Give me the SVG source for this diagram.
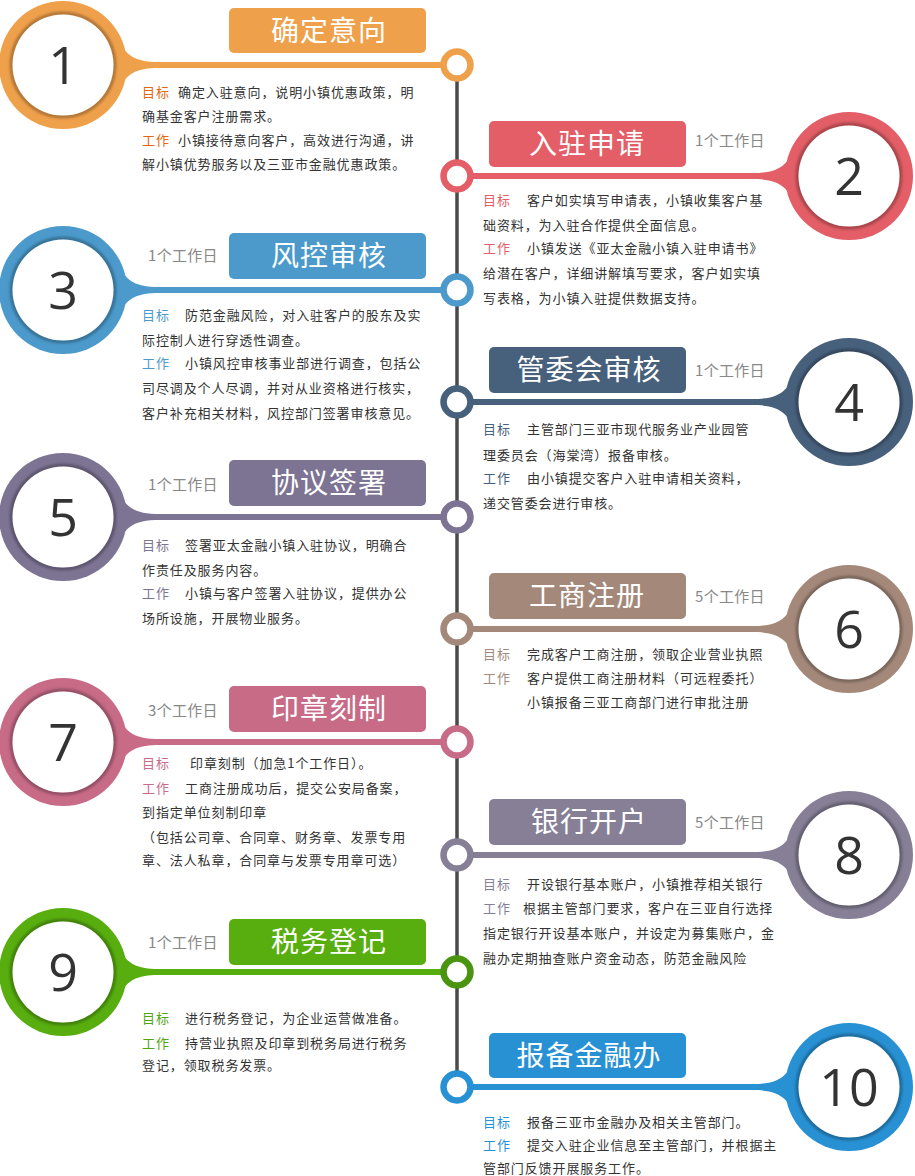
<svg xmlns="http://www.w3.org/2000/svg" width="915" height="1176" viewBox="0 0 915 1176">
<defs>
<style>
text{font-family:"Noto Sans CJK SC","Noto Sans",sans-serif}
.b{font-size:13px;fill:#333;letter-spacing:0.9px}
.t{font-size:28px;fill:#fff;text-anchor:middle;letter-spacing:1px}
.d{font-size:15px;fill:#888;letter-spacing:0.3px}
.n{font-family:"Open Sans","Liberation Sans",sans-serif;font-size:52px;fill:#333;text-anchor:middle}
.w{fill:#fff}
.sh{fill:none;stroke:#000;stroke-opacity:0.35;stroke-width:3}
.sc{fill:#fff;stroke-width:6.5}
</style>
<filter id="blur" x="-10%" y="-10%" width="120%" height="120%"><feGaussianBlur stdDeviation="1.5"/></filter>
</defs>
<rect width="915" height="1176" fill="#fff"/>
<g id="connectors">
<line x1="457" y1="65" x2="457" y2="1087" stroke="#4a4a4a" stroke-width="3.5"/>
</g>

<g id="step1">
<path d="M113,29 C124,55 132,62 160,62 L457,62 L457,68 L160,68 C132,68 124,75 113,101 Z" fill="#EFA04B"/>
<circle cx="63" cy="65" r="64" fill="#EFA04B"/>
<circle cx="63" cy="65" r="51.5" class="sh" filter="url(#blur)"/>
<circle cx="63" cy="65" r="50.5" class="w"/>
<text x="63" y="84" class="n">1</text>
<circle cx="457" cy="65" r="13.5" class="sc" stroke="#EFA04B"/>
<rect x="229" y="8" width="197" height="45" rx="5" fill="#EFA04B"/>
<text x="329" y="41" class="t">确定意向</text>
<text class="b" y="97"><tspan x="142" fill="#E4660E">目标</tspan><tspan x="178">确定入驻意向，说明小镇优惠政策，明</tspan></text>
<text class="b" x="142" y="121">确基金客户注册需求。</text>
<text class="b" y="145"><tspan x="142" fill="#E4660E">工作</tspan><tspan x="178">小镇接待意向客户，高效进行沟通，讲</tspan></text>
<text class="b" x="142" y="169">解小镇优势服务以及三亚市金融优惠政策。</text>
</g>

<g id="step2">
<path d="M799,140 C788,166 780,173 752,173 L457,173 L457,179 L752,179 C780,179 788,186 799,212 Z" fill="#E35E66"/>
<circle cx="849" cy="176" r="64" fill="#E35E66"/>
<circle cx="849" cy="176" r="51.5" class="sh" filter="url(#blur)"/>
<circle cx="849" cy="176" r="50.5" class="w"/>
<text x="849" y="195" class="n">2</text>
<circle cx="457" cy="176" r="13.5" class="sc" stroke="#E35E66"/>
<rect x="489" y="121" width="197" height="46" rx="5" fill="#E35E66"/>
<text x="587" y="154" class="t">入驻申请</text>
<text x="695" y="146" class="d">1个工作日</text>
<text class="b" y="205"><tspan x="483" fill="#E35E66">目标</tspan><tspan x="527">客户如实填写申请表，小镇收集客户基</tspan></text>
<text class="b" x="483" y="230">础资料，为入驻合作提供全面信息。</text>
<text class="b" y="253"><tspan x="483" fill="#E35E66">工作</tspan><tspan x="527">小镇发送《亚太金融小镇入驻申请书》</tspan></text>
<text class="b" x="483" y="278">给潜在客户，详细讲解填写要求，客户如实填</text>
<text class="b" x="483" y="303">写表格，为小镇入驻提供数据支持。</text>
</g>

<g id="step3">
<path d="M113,254 C124,280 132,287 160,287 L457,287 L457,293 L160,293 C132,293 124,300 113,326 Z" fill="#4B9ACB"/>
<circle cx="63" cy="290" r="64" fill="#4B9ACB"/>
<circle cx="63" cy="290" r="51.5" class="sh" filter="url(#blur)"/>
<circle cx="63" cy="290" r="50.5" class="w"/>
<text x="63" y="309" class="n">3</text>
<circle cx="457" cy="290" r="13.5" class="sc" stroke="#4B9ACB"/>
<rect x="229" y="233" width="197" height="46" rx="5" fill="#4B9ACB"/>
<text x="329" y="266" class="t">风控审核</text>
<text x="148" y="261" class="d">1个工作日</text>
<text class="b" y="320"><tspan x="142" fill="#4B9ACB">目标</tspan><tspan x="185">防范金融风险，对入驻客户的股东及实</tspan></text>
<text class="b" x="142" y="345">际控制人进行穿透性调查。</text>
<text class="b" y="368"><tspan x="142" fill="#4B9ACB">工作</tspan><tspan x="185">小镇风控审核事业部进行调查，包括公</tspan></text>
<text class="b" x="142" y="393">司尽调及个人尽调，并对从业资格进行核实，</text>
<text class="b" x="142" y="418">客户补充相关材料，风控部门签署审核意见。</text>
</g>

<g id="step4">
<path d="M799,366 C788,392 780,399 752,399 L457,399 L457,405 L752,405 C780,405 788,412 799,438 Z" fill="#47607C"/>
<circle cx="849" cy="402" r="64" fill="#47607C"/>
<circle cx="849" cy="402" r="51.5" class="sh" filter="url(#blur)"/>
<circle cx="849" cy="402" r="50.5" class="w"/>
<text x="849" y="421" class="n">4</text>
<circle cx="457" cy="402" r="13.5" class="sc" stroke="#47607C"/>
<rect x="489" y="347" width="197" height="46" rx="5" fill="#47607C"/>
<text x="589" y="380" class="t">管委会审核</text>
<text x="695" y="376" class="d">1个工作日</text>
<text class="b" y="434"><tspan x="483" fill="#47607C">目标</tspan><tspan x="527">主管部门三亚市现代服务业产业园管</tspan></text>
<text class="b" x="483" y="460">理委员会（海棠湾）报备审核。</text>
<text class="b" y="483"><tspan x="483" fill="#47607C">工作</tspan><tspan x="527">由小镇提交客户入驻申请相关资料，</tspan></text>
<text class="b" x="483" y="508">递交管委会进行审核。</text>
</g>

<g id="step5">
<path d="M113,481 C124,507 132,514 160,514 L457,514 L457,520 L160,520 C132,520 124,527 113,553 Z" fill="#7D7393"/>
<circle cx="63" cy="517" r="64" fill="#7D7393"/>
<circle cx="63" cy="517" r="51.5" class="sh" filter="url(#blur)"/>
<circle cx="63" cy="517" r="50.5" class="w"/>
<text x="63" y="536" class="n">5</text>
<circle cx="457" cy="517" r="13.5" class="sc" stroke="#7D7393"/>
<rect x="229" y="460" width="197" height="46" rx="5" fill="#7D7393"/>
<text x="329" y="493" class="t">协议签署</text>
<text x="148" y="490" class="d">1个工作日</text>
<text class="b" y="550"><tspan x="142" fill="#7D7393">目标</tspan><tspan x="185">签署亚太金融小镇入驻协议，明确合</tspan></text>
<text class="b" x="142" y="575">作责任及服务内容。</text>
<text class="b" y="598"><tspan x="142" fill="#7D7393">工作</tspan><tspan x="185">小镇与客户签署入驻协议，提供办公</tspan></text>
<text class="b" x="142" y="623">场所设施，开展物业服务。</text>
</g>

<g id="step6">
<path d="M799,593 C788,619 780,626 752,626 L457,626 L457,632 L752,632 C780,632 788,639 799,665 Z" fill="#A4897A"/>
<circle cx="849" cy="629" r="64" fill="#A4897A"/>
<circle cx="849" cy="629" r="51.5" class="sh" filter="url(#blur)"/>
<circle cx="849" cy="629" r="50.5" class="w"/>
<text x="849" y="648" class="n">6</text>
<circle cx="457" cy="629" r="13.5" class="sc" stroke="#A4897A"/>
<rect x="489" y="573" width="197" height="46" rx="5" fill="#A4897A"/>
<text x="587" y="606" class="t">工商注册</text>
<text x="695" y="602" class="d">5个工作日</text>
<text class="b" y="659"><tspan x="483" fill="#A4897A">目标</tspan><tspan x="527">完成客户工商注册，领取企业营业执照</tspan></text>
<text class="b" y="683"><tspan x="483" fill="#A4897A">工作</tspan><tspan x="527">客户提供工商注册材料（可远程委托）</tspan></text>
<text class="b" x="527" y="707">小镇报备三亚工商部门进行审批注册</text>
</g>

<g id="step7">
<path d="M113,706 C124,732 132,739 160,739 L457,739 L457,745 L160,745 C132,745 124,752 113,778 Z" fill="#C76B87"/>
<circle cx="63" cy="742" r="64" fill="#C76B87"/>
<circle cx="63" cy="742" r="51.5" class="sh" filter="url(#blur)"/>
<circle cx="63" cy="742" r="50.5" class="w"/>
<text x="63" y="761" class="n">7</text>
<circle cx="457" cy="742" r="13.5" class="sc" stroke="#C76B87"/>
<rect x="229" y="686" width="197" height="46" rx="5" fill="#C76B87"/>
<text x="329" y="719" class="t">印章刻制</text>
<text x="148" y="716" class="d">3个工作日</text>
<text class="b" y="768"><tspan x="142" fill="#C76B87">目标</tspan><tspan x="190">印章刻制（加急1个工作日）。</tspan></text>
<text class="b" y="793"><tspan x="142" fill="#C76B87">工作</tspan><tspan x="185">工商注册成功后，提交公安局备案，</tspan></text>
<text class="b" x="142" y="817">到指定单位刻制印章</text>
<text class="b" x="142" y="842">（包括公司章、合同章、财务章、发票专用</text>
<text class="b" x="142" y="865">章、法人私章，合同章与发票专用章可选）</text>
</g>

<g id="step8">
<path d="M799,819 C788,845 780,852 752,852 L457,852 L457,858 L752,858 C780,858 788,865 799,891 Z" fill="#867F96"/>
<circle cx="849" cy="855" r="64" fill="#867F96"/>
<circle cx="849" cy="855" r="51.5" class="sh" filter="url(#blur)"/>
<circle cx="849" cy="855" r="50.5" class="w"/>
<text x="849" y="874" class="n">8</text>
<circle cx="457" cy="855" r="13.5" class="sc" stroke="#867F96"/>
<rect x="489" y="799" width="197" height="46" rx="5" fill="#867F96"/>
<text x="589" y="832" class="t">银行开户</text>
<text x="695" y="828" class="d">5个工作日</text>
<text class="b" y="889"><tspan x="483" fill="#867F96">目标</tspan><tspan x="527">开设银行基本账户，小镇推荐相关银行</tspan></text>
<text class="b" y="913"><tspan x="483" fill="#867F96">工作</tspan><tspan x="523">根据主管部门要求，客户在三亚自行选择</tspan></text>
<text class="b" x="483" y="938">指定银行开设基本账户，并设定为募集账户，金</text>
<text class="b" x="483" y="963">融办定期抽查账户资金动态，防范金融风险</text>
</g>

<g id="step9">
<path d="M113,936 C124,962 132,969 160,969 L457,969 L457,975 L160,975 C132,975 124,982 113,1008 Z" fill="#58AE0E"/>
<circle cx="63" cy="972" r="64" fill="#58AE0E"/>
<circle cx="63" cy="972" r="51.5" class="sh" filter="url(#blur)"/>
<circle cx="63" cy="972" r="50.5" class="w"/>
<text x="63" y="991" class="n">9</text>
<circle cx="457" cy="972" r="13.5" class="sc" stroke="#4A9410"/>
<rect x="229" y="919" width="197" height="46" rx="5" fill="#58AE0E"/>
<text x="329" y="952" class="t">税务登记</text>
<text x="148" y="948" class="d">1个工作日</text>
<text class="b" y="1023"><tspan x="142" fill="#4FA513">目标</tspan><tspan x="185">进行税务登记，为企业运营做准备。</tspan></text>
<text class="b" y="1048"><tspan x="142" fill="#4FA513">工作</tspan><tspan x="185">持营业执照及印章到税务局进行税务</tspan></text>
<text class="b" x="142" y="1070">登记，领取税务发票。</text>
</g>

<g id="step10">
<path d="M799,1051 C788,1077 780,1084 752,1084 L457,1084 L457,1090 L752,1090 C780,1090 788,1097 799,1123 Z" fill="#2891D4"/>
<circle cx="849" cy="1087" r="64" fill="#2891D4"/>
<circle cx="849" cy="1087" r="51.5" class="sh" filter="url(#blur)"/>
<circle cx="849" cy="1087" r="50.5" class="w"/>
<text x="849" y="1106" class="n">10</text>
<circle cx="457" cy="1087" r="13.5" class="sc" stroke="#2891D4"/>
<rect x="489" y="1033" width="197" height="45" rx="5" fill="#2891D4"/>
<text x="589" y="1066" class="t">报备金融办</text>
<text class="b" y="1127"><tspan x="483" fill="#2891D4">目标</tspan><tspan x="527">报备三亚市金融办及相关主管部门。</tspan></text>
<text class="b" y="1150"><tspan x="483" fill="#2891D4">工作</tspan><tspan x="527">提交入驻企业信息至主管部门，并根据主</tspan></text>
<text class="b" x="483" y="1173">管部门反馈开展服务工作。</text>
</g>
</svg>
